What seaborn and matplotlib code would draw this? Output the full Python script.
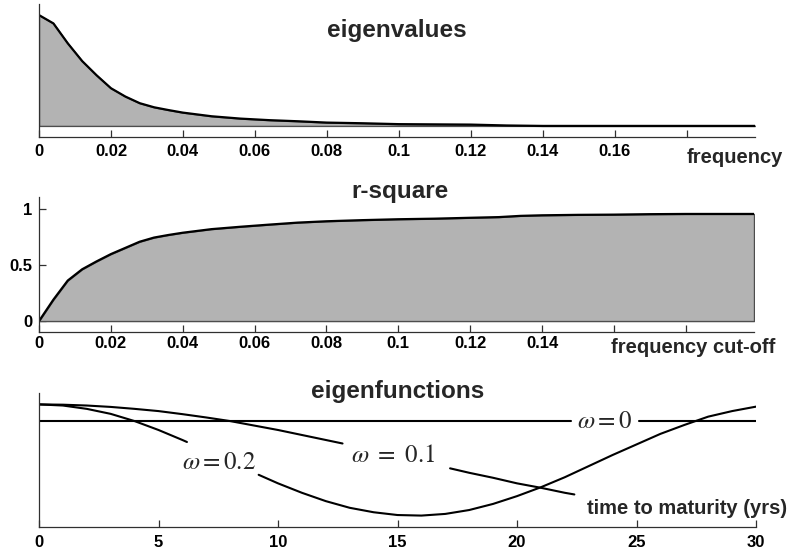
import numpy as np
import matplotlib
matplotlib.use("Agg")
import matplotlib.pyplot as plt
import seaborn as sns

# ---------------- data ----------------
freq_eig = [0, 0.004, 0.008, 0.012, 0.016, 0.020, 0.024, 0.028, 0.032, 0.036,
            0.040, 0.048, 0.056, 0.064, 0.072, 0.080, 0.090, 0.100, 0.110,
            0.120, 0.130, 0.140, 0.160, 0.180, 0.199]
eigenvalues = [1.00, 0.925, 0.745, 0.585, 0.457, 0.340, 0.265, 0.205, 0.168, 0.143,
               0.120, 0.087, 0.066, 0.052, 0.042, 0.030, 0.024, 0.016, 0.014,
               0.012, 0.004, 0.0, 0.0, 0.0, 0.0]

freq_rsq = [0, 0.004, 0.008, 0.012, 0.016, 0.020, 0.024, 0.028, 0.032, 0.036,
            0.040, 0.048, 0.056, 0.064, 0.072, 0.080, 0.090, 0.100, 0.110,
            0.120, 0.128, 0.134, 0.140, 0.150, 0.160, 0.170, 0.180, 0.199]
rsquare = [0.0, 0.19, 0.36, 0.46, 0.53, 0.595, 0.65, 0.705, 0.742, 0.765,
           0.785, 0.817, 0.838, 0.857, 0.875, 0.887, 0.897, 0.905, 0.910,
           0.918, 0.924, 0.935, 0.940, 0.944, 0.946, 0.950, 0.952, 0.952]

maturity = list(range(31))
ef_w02 = [1.00, 0.98, 0.92, 0.83, 0.70, 0.54, 0.36, 0.17, -0.03, -0.23, -0.42,
          -0.59, -0.74, -0.86, -0.94, -0.99, -1.00, -0.97, -0.90, -0.79, -0.65,
          -0.49, -0.31, -0.11, 0.09, 0.28, 0.47, 0.63, 0.78, 0.88, 0.96]
maturity_w01 = list(range(23)) + [22.4]
ef_w01 = [1.00, 0.995, 0.98, 0.955, 0.92, 0.88, 0.825, 0.765, 0.70, 0.62, 0.54,
          0.45, 0.36, 0.27, 0.17, 0.07, -0.03, -0.13, -0.23, -0.32, -0.42,
          -0.50, -0.59, -0.62]
maturity_w0 = [0, 30]
ef_w0 = [0.705, 0.705]

eig_xticks = [0, 0.02, 0.04, 0.06, 0.08, 0.10, 0.12, 0.14, 0.16, 0.18]
eig_xlabels = ["0", "0.02", "0.04", "0.06", "0.08", "0.1", "0.12", "0.14", "0.16", ""]
rsq_xlabels = ["0", "0.02", "0.04", "0.06", "0.08", "0.1", "0.12", "0.14", "", ""]
rsq_yticks = [0, 0.5, 1]
rsq_ylabels = ["0", "0.5", "1"]
mat_xticks = [0, 5, 10, 15, 20, 25, 30]
mat_xlabels = ["0", "5", "10", "15", "20", "25", "30"]

# ---------------- style ----------------
sns.set_style("white")
plt.rcParams["font.family"] = ["Liberation Sans", "DejaVu Sans"]
plt.rcParams["mathtext.fontset"] = "stix"

W, H = 792, 549
fig = plt.figure(figsize=(W / 100, H / 100), dpi=100)
fig.patch.set_facecolor("white")


def rect(x0, y0, x1, y1):
    return [x0 / W, 1 - y1 / H, (x1 - x0) / W, (y1 - y0) / H]


def ftext(x, y, s, **kw):
    fig.text(x / W, 1 - y / H, s, **kw)


FILL = "#b3b3b3"
EDGE = "#4d4d4d"
SPINE = "#303030"


def style_axes(ax, pad):
    for s in ["top", "right"]:
        ax.spines[s].set_visible(False)
    for s in ["left", "bottom"]:
        ax.spines[s].set_color(SPINE)
        ax.spines[s].set_linewidth(0.9)
    ax.tick_params(axis="both", which="major", bottom=True, left=True,
                   top=False, right=False, direction="in", length=5, width=0.9,
                   color=SPINE, labelsize=12, pad=pad, labelcolor="black")
    for lab in ax.get_xticklabels() + ax.get_yticklabels():
        lab.set_fontweight("bold")
    ax.set_facecolor("white")


# ---- panel 1: eigenvalues ----
ax1 = fig.add_axes(rect(39, 4, 755, 137))
ax1.fill_between(freq_eig, eigenvalues, 0, facecolor=FILL, edgecolor=EDGE, linewidth=1.0)
sns.lineplot(x=freq_eig, y=eigenvalues, ax=ax1, color="black", linewidth=1.6)
ax1.set_xlim(0, 0.199)
ax1.set_ylim(-0.1, 1.1)
ax1.set_xticks(eig_xticks)
ax1.set_xticklabels(eig_xlabels)
ax1.set_yticks([])
style_axes(ax1, 5)

# ---- panel 2: r-square ----
ax2 = fig.add_axes(rect(39, 197.3, 754, 332.3))
ax2.fill_between(freq_rsq, rsquare, 0, facecolor=FILL, edgecolor=EDGE, linewidth=1.0)
sns.lineplot(x=freq_rsq, y=rsquare, ax=ax2, color="black", linewidth=1.6)
ax2.set_xlim(0, 0.199)
ax2.set_ylim(-0.1, 1.1)
ax2.set_xticks(eig_xticks)
ax2.set_xticklabels(rsq_xlabels)
ax2.set_yticks(rsq_yticks)
ax2.set_yticklabels(rsq_ylabels)
style_axes(ax2, 3)
ax2.tick_params(axis="y", pad=5)

# ---- panel 3: eigenfunctions ----
ax3 = fig.add_axes(rect(39, 393.3, 756, 526.7))


def gapped_line(ax, t, v, gap):
    t = np.asarray(t, float)
    v = np.asarray(v, float)
    g0, g1 = gap
    left = t < g0
    right = t > g1
    tl = np.append(t[left], g0)
    vl = np.append(v[left], np.interp(g0, t, v))
    tr = np.insert(t[right], 0, g1)
    vr = np.insert(v[right], 0, np.interp(g1, t, v))
    for tt, vv in ((tl, vl), (tr, vr)):
        sns.lineplot(x=tt, y=vv, ax=ax, color="black", linewidth=1.5, sort=False)


gapped_line(ax3, maturity_w0, ef_w0, (22.25, 25.1))
gapped_line(ax3, maturity_w01, ef_w01, (12.7, 17.2))
gapped_line(ax3, maturity, ef_w02, (6.19, 9.19))
ax3.set_xlim(0, 30)
ax3.set_ylim(-1.2, 1.2)
ax3.set_xticks(mat_xticks)
ax3.set_xticklabels(mat_xlabels)
ax3.set_yticks([])
style_axes(ax3, 6)

ax3.text(7.54, -0.03, r"$\omega = 0.2$", fontsize=18, fontweight="normal",
         ha="center", va="center")
ax3.text(14.83, 0.09, r"$\omega\ =\ 0.1$", fontsize=18, fontweight="normal",
         ha="center", va="center")
ax3.text(23.67, 0.705, r"$\omega = 0$", fontsize=18, fontweight="normal",
         ha="center", va="center")

# ---- titles & labels ----
ftext(397, 36.7, "eigenvalues", fontsize=17.5, fontweight="bold", ha="center", va="baseline")
ftext(400, 198.3, "r-square", fontsize=17.5, fontweight="bold", ha="center", va="baseline")
ftext(398, 398.3, "eigenfunctions", fontsize=17.5, fontweight="bold", ha="center", va="baseline")
ftext(686.7, 163.3, "frequency", fontsize=14.5, fontweight="bold", ha="left", va="baseline")
ftext(775, 353.3, "frequency cut-off", fontsize=14.5, fontweight="bold", ha="right", va="baseline")
ftext(787, 514.5, "time to maturity (yrs)", fontsize=14.5, fontweight="bold", ha="right", va="baseline")

fig.savefig("out.png", dpi=100, facecolor="white")
